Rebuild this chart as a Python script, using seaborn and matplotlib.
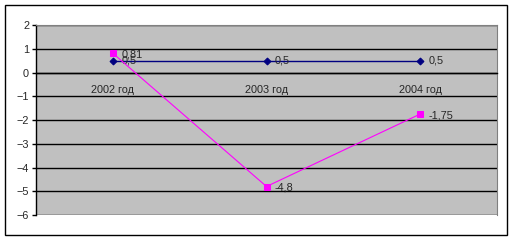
import matplotlib
matplotlib.use("Agg")
import matplotlib.pyplot as plt
import seaborn as sns
import pandas as pd
from matplotlib.patches import Rectangle

categories = ["2002 год", "2003 год", "2004 год"]
series_a = [0.5, 0.5, 0.5]
series_b = [0.81, -4.8, -1.75]
labels_a = ["0,5", "0,5", "0,5"]
labels_b = ["0,81", "-4,8", "-1,75"]

sns.set_style("white")
plt.rcParams['font.family'] = ['Liberation Sans', 'DejaVu Sans']

fs = 7.8
fig = plt.figure(figsize=(5.13, 2.41), dpi=100)
fig.patch.set_facecolor("white")
fig.add_artist(Rectangle((5/513, 1-235/241), 502/513, 230/241, transform=fig.transFigure,
                         fill=False, edgecolor="black", linewidth=1.0))
ax = fig.add_axes([36/513, 1-215/241, 461/513, 190/241])
ax.set_facecolor("#C0C0C0")

x = list(range(len(categories)))
df_a = pd.DataFrame({"x": x, "y": series_a})
df_b = pd.DataFrame({"x": x, "y": series_b})
sns.lineplot(data=df_a, x="x", y="y", ax=ax, color="#000080", marker="D",
             markersize=3.5, markeredgecolor="#000080", linewidth=1.0, zorder=3)
sns.lineplot(data=df_b, x="x", y="y", ax=ax, color="#FF00FF", marker="s",
             markersize=5, markeredgecolor="#FF00FF", linewidth=0.8, zorder=4)

for xi, yi, lb in zip(x, series_a, labels_a):
    ax.annotate(lb, (xi, yi), xytext=(6, 0), textcoords="offset points",
                va="center", ha="left", fontsize=fs)
for xi, yi, lb in zip(x, series_b, labels_b):
    ax.annotate(lb, (xi, yi), xytext=(6, -1), textcoords="offset points",
                va="center", ha="left", fontsize=fs)

ax.set_xlim(-0.5, 2.5)
ax.set_ylim(-6, 2)
ax.set_yticks(range(-6, 3))
ax.yaxis.grid(True, color="black", linewidth=1.0)
ax.set_axisbelow(True)
ax.set_xlabel("")
ax.set_ylabel("")

ax.spines["bottom"].set_position(("data", 0))
ax.spines["bottom"].set_color("black")
ax.spines["bottom"].set_linewidth(1.0)
ax.spines["left"].set_color("black")
ax.spines["left"].set_linewidth(1.0)
ax.spines["top"].set_color("#808080")
ax.spines["right"].set_color("#808080")
ax.spines["top"].set_visible(True)
ax.spines["right"].set_visible(True)

ax.set_xticks(x)
ax.set_xticklabels(categories, fontsize=fs)
ax.set_xticks([-0.5, 0.5, 1.5, 2.5], minor=True)
ax.tick_params(axis="x", which="major", length=0, pad=9)
ax.tick_params(axis="x", which="minor", length=3, direction="out", color="black", width=1)
ax.tick_params(axis="y", length=3, direction="out", color="black", width=1, labelsize=fs, pad=2, left=True)

fig.savefig("out.png", dpi=100)
